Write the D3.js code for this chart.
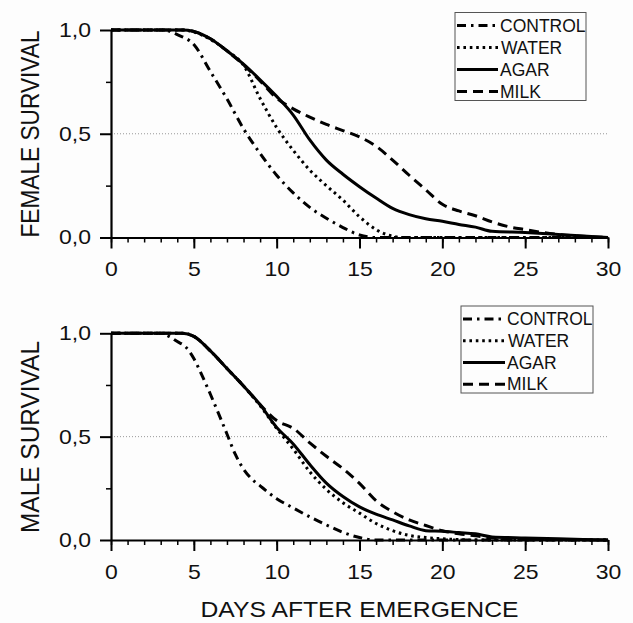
<!DOCTYPE html>
<html><head><meta charset="utf-8">
<script src="https://cdn.jsdelivr.net/npm/d3@7"></script>
<style>html,body{margin:0;padding:0;background:#fdfdfd;}svg{display:block;font-family:"Liberation Sans",Arial,sans-serif;}</style>
</head><body>
<svg id="chart" width="633" height="623"></svg>
<script>
// ---- data ----
const seriesNames = ["CONTROL","WATER","AGAR","MILK"];
const xTicks = [0,5,10,15,20,25,30];
const yTicks = [0,0.5,1];
const yTickLabels = ["0,0","0,5","1,0"];
const yTitles = ["FEMALE SURVIVAL","MALE SURVIVAL"];
const xTitle = "DAYS AFTER EMERGENCE";

const femaleControl = [[0,1],[3,1],[3.5,0.995],[4,0.978],[5,0.93],[6,0.8],[7,0.668],[8,0.524],[9,0.405],[10,0.3],[11,0.215],[12,0.145],[13,0.093],[14,0.048],[15,0.012],[16,0],[30,0]];
const femaleWater = [[0,1],[4.3,1],[5,0.99],[6,0.955],[7,0.9],[8,0.83],[9,0.67],[10,0.53],[11,0.42],[12,0.325],[13,0.25],[14,0.18],[15,0.1],[16,0.038],[17,0.006],[17.5,0],[30,0]];
const femaleAgar = [[0,1],[4.3,1],[5,0.993],[6,0.958],[7,0.9],[8,0.835],[9,0.76],[10,0.68],[11,0.59],[12,0.47],[13,0.373],[14,0.305],[15,0.245],[16,0.19],[17,0.14],[18,0.11],[19,0.09],[20,0.078],[21,0.063],[22,0.05],[23,0.03],[25,0.024],[27,0.015],[29,0.005],[30,0]];
const femaleMilk = [[0,1],[4.3,1],[5,0.993],[6,0.958],[7,0.9],[8,0.832],[9,0.755],[10,0.672],[11,0.62],[12,0.58],[13,0.545],[14,0.515],[15,0.485],[16,0.44],[17,0.373],[18,0.3],[19,0.23],[20,0.16],[21,0.128],[22,0.105],[23,0.075],[24,0.052],[25,0.038],[26,0.025],[27,0.015],[28,0.008],[29,0.003],[30,0]];

const maleControl = [[0,1],[3,1],[3.5,0.985],[4,0.96],[4.5,0.935],[5,0.878],[5.5,0.795],[6,0.705],[6.5,0.61],[7,0.513],[7.5,0.415],[8,0.343],[8.5,0.295],[9,0.262],[10,0.2],[11,0.155],[12,0.112],[13,0.073],[14,0.037],[15,0.012],[16,0],[30,0]];
const maleWater = [[0,1],[4.3,1],[5,0.985],[6,0.915],[7,0.83],[8,0.745],[9,0.65],[10,0.54],[11,0.44],[12,0.33],[13,0.245],[14,0.18],[15,0.13],[16,0.08],[17,0.045],[18,0.022],[19,0.012],[20,0.006],[22,0],[30,0]];
const maleAgar = [[0,1],[4.3,1],[5,0.985],[6,0.915],[7,0.83],[8,0.745],[9,0.655],[10,0.545],[11,0.465],[12,0.365],[13,0.275],[14,0.21],[15,0.16],[16,0.125],[17,0.097],[18,0.068],[19,0.045],[20,0.042],[21,0.036],[22,0.03],[23,0.015],[25,0.01],[27,0.006],[30,0]];
const maleMilk = [[0,1],[4.3,1],[5,0.985],[6,0.915],[7,0.83],[8,0.745],[9,0.655],[10,0.578],[11,0.54],[12,0.47],[13,0.405],[14,0.345],[15,0.274],[16,0.19],[17,0.137],[18,0.097],[19,0.07],[20,0.045],[21,0.03],[22,0.02],[23,0.01],[25,0.005],[30,0]];

const femaleSeries = [femaleControl, femaleWater, femaleAgar, femaleMilk];
const maleSeries = [maleControl, maleWater, maleAgar, maleMilk];

// ---- styles ----
const dashes = ["9,5,2.5,5", "2.6,3.8", null, "10,6"];
const svg = d3.select("#chart");
const x = d3.scaleLinear().domain([0,30]).range([111,608]);

const panels = [
  {series: femaleSeries, y: d3.scaleLinear().domain([0,1]).range([237.5,30]), title: yTitles[0], titleLen: 207, titleY: 134,
   legend: {x: 455, y: 12.5, w: 131, h: 88, textX: 500}},
  {series: maleSeries, y: d3.scaleLinear().domain([0,1]).range([540,333.3]), title: yTitles[1], titleLen: 192, titleY: 437,
   legend: {x: 461, y: 306, w: 132, h: 87, textX: 507}}
];

panels.forEach((p, pi) => {
  const g = svg.append("g");
  const y = p.y;
  g.append("line").attr("x1", x(0)).attr("x2", x(30)).attr("y1", y(0.5)).attr("y2", y(0.5))
    .attr("stroke", "#999").attr("stroke-width", 1).attr("stroke-dasharray", "1,2");

  g.append("g").attr("transform", `translate(0,${y(0)})`)
    .call(d3.axisBottom(x).tickValues(d3.range(0,31)).tickSize(5).tickSizeOuter(0).tickFormat(""))
    .call(a => { a.select(".domain").remove(); a.selectAll("line").attr("stroke","#000").attr("stroke-width",1.5); });
  const xa = g.append("g").attr("transform", `translate(0,${y(0)})`)
    .call(d3.axisBottom(x).tickValues(xTicks).tickSize(11).tickSizeOuter(0).tickPadding(13.5).tickFormat(d3.format("d")));
  xa.select(".domain").attr("stroke","#000").attr("stroke-width",2.2);
  xa.selectAll("line").attr("stroke","#000").attr("stroke-width",2);
  xa.selectAll("text").attr("font-size",20).attr("fill","#111").attr("font-family","Liberation Sans, Arial, sans-serif")
    .attr("transform","scale(1.15,1)");

  g.append("g").attr("transform", `translate(${x(0)},0)`)
    .call(d3.axisLeft(y).tickValues([0.25,0.75]).tickSize(5).tickSizeOuter(0).tickFormat(""))
    .call(a => { a.select(".domain").remove(); a.selectAll("line").attr("stroke","#000").attr("stroke-width",1.5); });
  const ya = g.append("g").attr("transform", `translate(${x(0)},0)`)
    .call(d3.axisLeft(y).tickValues(yTicks).tickSize(11).tickSizeOuter(0).tickPadding(6.4)
      .tickFormat((d,i) => yTickLabels[i]));
  ya.select(".domain").attr("stroke","#000").attr("stroke-width",2.2);
  ya.selectAll("line").attr("stroke","#000").attr("stroke-width",2);
  ya.selectAll("text").attr("font-size",20).attr("fill","#111").attr("font-family","Liberation Sans, Arial, sans-serif")
    .attr("transform","scale(1.15,1)");

  g.append("text").attr("transform", `translate(39,${p.titleY}) rotate(-90)`)
    .attr("text-anchor","middle").attr("font-size",25).attr("fill","#111")
    .attr("textLength", p.titleLen).attr("lengthAdjust","spacingAndGlyphs").text(p.title);

  const line = d3.line().x(d => x(d[0])).y(d => y(d[1])).curve(d3.curveMonotoneX);
  [0,1,3,2].forEach(i => {
    g.append("path").datum(p.series[i]).attr("d", line)
      .attr("fill","none").attr("stroke","#000").attr("stroke-width",3)
      .attr("stroke-dasharray", dashes[i]);
  });

  const L = p.legend;
  const lg = g.append("g");
  lg.append("rect").attr("x",L.x).attr("y",L.y).attr("width",L.w).attr("height",L.h)
    .attr("fill","#fdfdfd").attr("stroke","#555").attr("stroke-width",1);
  const rowY = d3.scaleBand().domain(seriesNames).range([L.y + 2, L.y + L.h + 2]);
  seriesNames.forEach((name, i) => {
    const cy = rowY(name) + rowY.bandwidth()/2;
    lg.append("line").attr("x1", L.x + 2).attr("x2", L.textX - 2).attr("y1", cy).attr("y2", cy)
      .attr("stroke","#000").attr("stroke-width",3).attr("stroke-dasharray", dashes[i]);
    lg.append("text").attr("x", L.textX + (i === 1 ? 1 : 0)).attr("y", cy).attr("dy","0.36em")
      .attr("font-size",17.5).attr("fill","#111").text(name);
  });
});

svg.append("text").attr("x", 359.5).attr("y", 617).attr("text-anchor","middle")
  .attr("font-size",22).attr("fill","#111").attr("textLength",318).attr("lengthAdjust","spacingAndGlyphs").text(xTitle);
</script>
</body></html>
